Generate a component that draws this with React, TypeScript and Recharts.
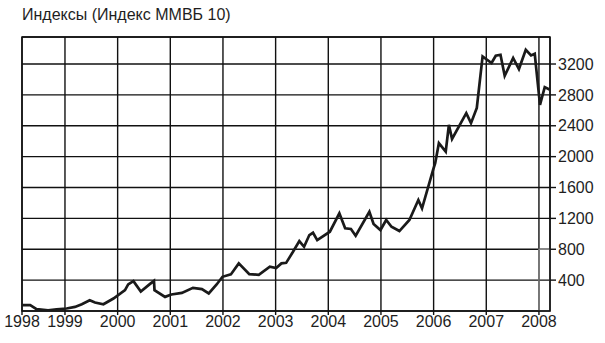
import {
  LineChart,
  Line,
  XAxis,
  YAxis,
  CartesianGrid,
  ReferenceArea,
} from "recharts";

// decimal years
const YEARS = [
  1998.18, 1998.34, 1998.46, 1998.68, 1998.84, 1999.03, 1999.19, 1999.32, 1999.47, 1999.57,
  1999.73, 1999.92, 2000.14, 2000.2, 2000.3, 2000.44, 2000.61, 2000.69, 2000.7, 2000.9,
  2001.02, 2001.22, 2001.43, 2001.6, 2001.73, 2001.88, 2001.99, 2002.15, 2002.3, 2002.5,
  2002.68, 2002.89, 2003.01, 2003.11, 2003.2, 2003.33, 2003.45, 2003.54, 2003.64, 2003.71,
  2003.79, 2004.03, 2004.21, 2004.32, 2004.43, 2004.52, 2004.78, 2004.86, 2004.99, 2005.1,
  2005.2, 2005.35, 2005.54, 2005.71, 2005.78, 2005.99, 2006.03, 2006.1, 2006.23, 2006.29,
  2006.35, 2006.62, 2006.71, 2006.82, 2006.93, 2007.1, 2007.18, 2007.27, 2007.35, 2007.51,
  2007.62, 2007.75, 2007.85, 2007.92, 2008.02, 2008.11, 2008.21,
];

const MICEX10 = [
  75, 75, 25, 10, 23, 32, 53, 88, 140, 110,
  88, 162, 270, 344, 387, 253, 348, 391, 270, 183,
  214, 235, 300, 283, 227, 344, 443, 474, 617, 478,
  469, 575, 556, 617, 624, 767, 906, 832, 984, 1014,
  919, 1027, 1266, 1071, 1062, 975, 1286, 1127, 1049, 1179,
  1092, 1036, 1179, 1438, 1330, 1828, 1915, 2174, 2065, 2412,
  2230, 2564, 2434, 2632, 3298, 3213, 3307, 3320, 3048, 3278,
  3135, 3385, 3311, 3333, 2671, 2901, 2866,
];

const X_MIN = 1998.184;
const X_MAX = 2008.21;
const X_TICKS = [X_MIN, 1999, 2000, 2001, 2002, 2003, 2004, 2005, 2006, 2007, 2008];
const Y_TICKS = [400, 800, 1200, 1600, 2000, 2400, 2800, 3200];
const Y_MAX = 3550;

const TITLE = "Индексы (Индекс ММВБ 10)";

const data = YEARS.map((year, i) => ({ year, value: MICEX10[i] }));

const FONT = "'Liberation Sans', Arial, Helvetica, sans-serif";
const tickStyle = { fontSize: 16, fill: "#1e1e1e", fontFamily: FONT };

export default function App() {
  return (
    <div
      style={{
        position: "absolute",
        left: 0,
        top: 0,
        width: 605,
        height: 343,
        background: "#fff",
        fontFamily: FONT,
      }}
    >
      <div
        style={{
          position: "absolute",
          left: 22,
          top: 7,
          fontSize: 16,
          lineHeight: "16px",
          color: "#1e1e1e",
          whiteSpace: "nowrap",
        }}
      >
        {TITLE}
      </div>
      <LineChart
        width={605}
        height={343}
        data={data}
        margin={{ top: 37, right: 0, left: 22, bottom: 0 }}
      >
        <CartesianGrid stroke="#111" strokeWidth={1.4} />
        <XAxis
          type="number"
          dataKey="year"
          domain={[X_MIN, X_MAX]}
          ticks={X_TICKS}
          tickFormatter={(v: number) => String(Math.floor(v))}
          interval={0}
          height={32}
          tick={tickStyle}
          tickSize={4}
          tickMargin={1}
          tickLine={{ stroke: "#111", strokeWidth: 1.4 }}
          axisLine={false}
          allowDataOverflow
        />
        <YAxis
          orientation="right"
          type="number"
          domain={[0, Y_MAX]}
          ticks={Y_TICKS}
          interval={0}
          width={55}
          tick={{ ...tickStyle, textAnchor: "start" }}
          tickSize={6}
          tickMargin={2}
          tickLine={{ stroke: "#111", strokeWidth: 1.4 }}
          axisLine={false}
          allowDataOverflow
        />
        <ReferenceArea
          x1={2008}
          x2={X_MAX}
          y1={0}
          y2={800}
          fill="none"
          stroke="#888"
          strokeWidth={1.3}
        />
        <ReferenceArea
          x1={X_MIN}
          x2={X_MAX}
          y1={0}
          y2={Y_MAX}
          fill="none"
          stroke="#111"
          strokeWidth={1.5}
        />
        <Line
          type="linear"
          dataKey="value"
          stroke="#1a1a1a"
          strokeWidth={2.7}
          dot={false}
          isAnimationActive={false}
        />
      </LineChart>
    </div>
  );
}
